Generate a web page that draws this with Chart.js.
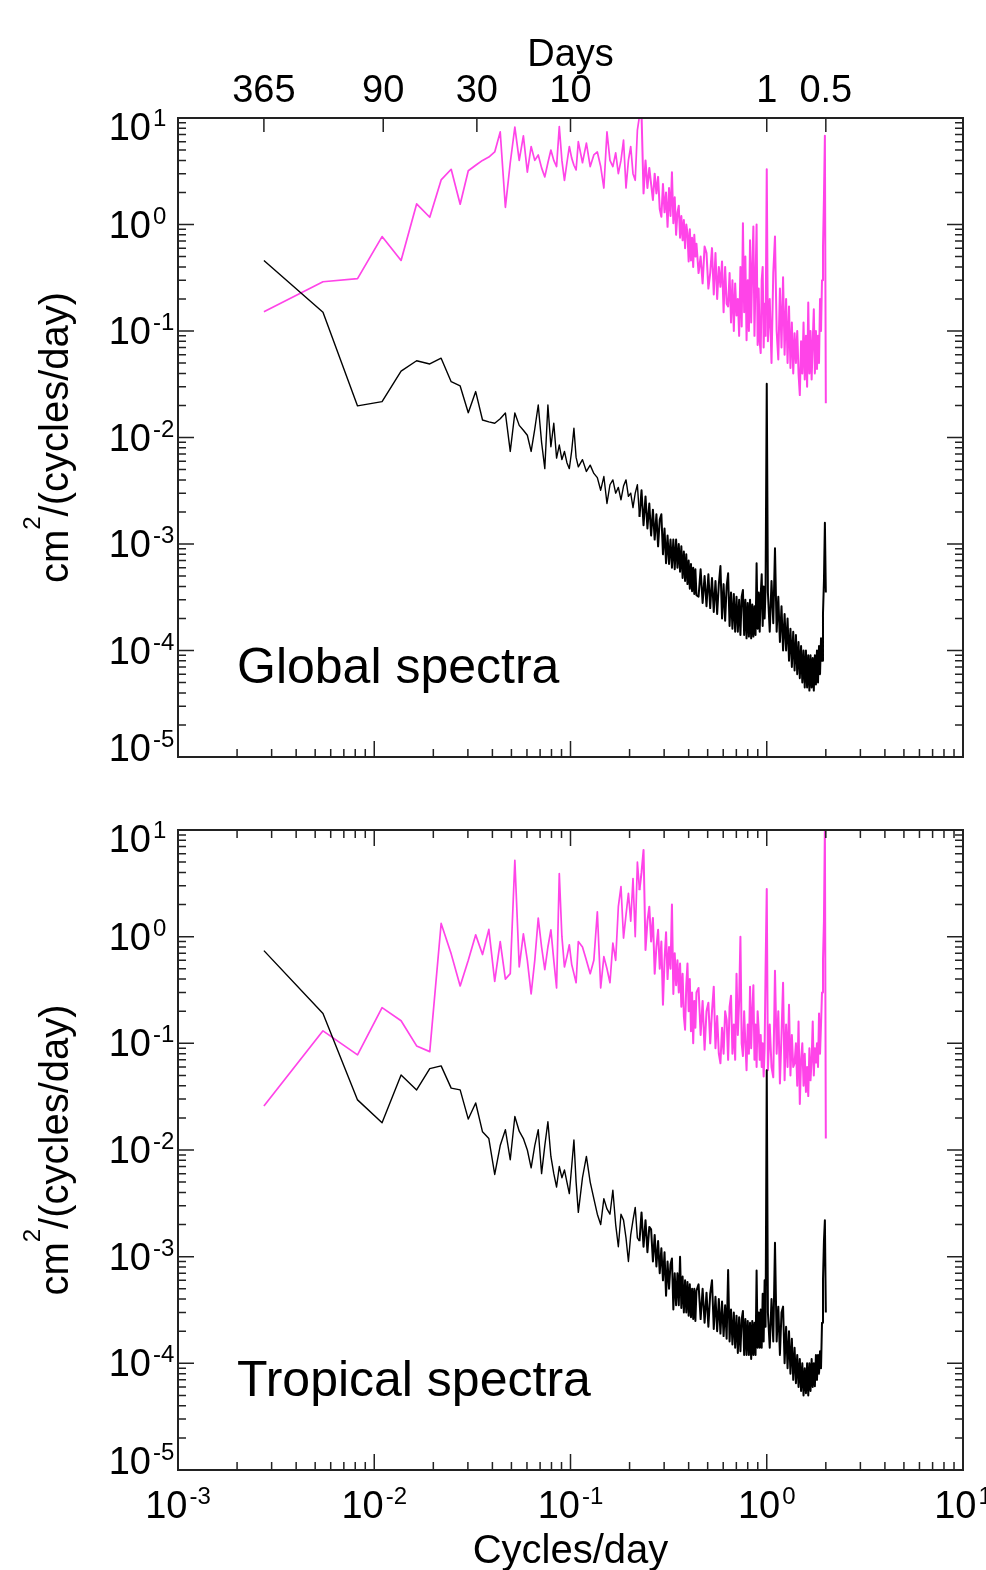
<!DOCTYPE html>
<html>
<head>
<meta charset="utf-8">
<title>Global and tropical spectra</title>
<script src="https://cdn.jsdelivr.net/npm/chart.js@4.4.1/dist/chart.umd.min.js"></script>
<style>
  html, body { margin: 0; padding: 0; background: #fff; }
  canvas { display: block; }
</style>
</head>
<body>
<canvas id="globalChart" width="986" height="790"></canvas>
<canvas id="tropicalChart" width="986" height="780"></canvas>
<script>
// frequencies (cycles/day) shared by all four spectra
const cyclesPerDay = [
  0.00274, 0.00548, 0.00822, 0.01096, 0.0137, 0.01644, 0.01918, 0.02192, 0.02466, 0.0274,
  0.03014, 0.03288, 0.03562, 0.03836, 0.0411, 0.04384, 0.04658, 0.04932, 0.05205, 0.05479,
  0.05753, 0.06027, 0.06301, 0.06575, 0.06849, 0.07123, 0.07397, 0.07671, 0.07945, 0.08219,
  0.08493, 0.08767, 0.09041, 0.09315, 0.09589, 0.09863, 0.1014, 0.1041, 0.1068, 0.1096,
  0.1151, 0.1205, 0.126, 0.1315, 0.137, 0.1425, 0.1479, 0.1534, 0.1589, 0.1644,
  0.1699, 0.1753, 0.1808, 0.1863, 0.1918, 0.1973, 0.2027, 0.2082, 0.2137, 0.2192,
  0.2247, 0.2301, 0.2356, 0.2411, 0.2466, 0.2521, 0.2575, 0.263, 0.2685, 0.274,
  0.2795, 0.2849, 0.2904, 0.2959, 0.3014, 0.3068, 0.3123, 0.3178, 0.3233, 0.3288,
  0.3342, 0.3397, 0.3452, 0.3507, 0.3562, 0.3616, 0.3671, 0.3726, 0.3781, 0.3836,
  0.389, 0.3945, 0.4, 0.4055, 0.411, 0.4164, 0.4219, 0.4274, 0.4329, 0.4384,
  0.4493, 0.4603, 0.4712, 0.4822, 0.4932, 0.5041, 0.5151, 0.526, 0.537, 0.5479,
  0.5589, 0.5699, 0.5808, 0.5918, 0.6027, 0.6137, 0.6247, 0.6356, 0.6466, 0.6575,
  0.6685, 0.6795, 0.6904, 0.7014, 0.7123, 0.7233, 0.7342, 0.7452, 0.7562, 0.7671,
  0.7781, 0.789, 0.8, 0.811, 0.8219, 0.8329, 0.8438, 0.8548, 0.8658, 0.8767,
  0.8877, 0.8986, 0.9096, 0.9205, 0.9315, 0.9425, 0.9534, 0.9644, 0.9753, 0.9863,
  1.0,
  1.0137, 1.0356, 1.0575, 1.0795, 1.1014, 1.1233, 1.1452, 1.1671, 1.189, 1.211,
  1.2329, 1.2548, 1.2767, 1.2986, 1.3205, 1.3425, 1.3644, 1.3863, 1.4082, 1.4301,
  1.4521, 1.474, 1.4959, 1.5178, 1.5397, 1.5616, 1.5836, 1.6055, 1.6274, 1.6493,
  1.6712, 1.6932, 1.7151, 1.737, 1.7589, 1.7808, 1.8027, 1.8247, 1.8466, 1.8685,
  1.8904, 1.9123, 1.9342, 1.9562, 1.9781, 2.0
];

// cm^2/(cycles/day)
const globalPink = [
  0.152, 0.29, 0.31, 0.77, 0.46, 1.56, 1.17, 2.62, 3.3, 1.55,
  3.2, 3.6, 4.0, 4.3, 4.8, 7.4, 1.45, 3.8, 8.2, 4.0,
  6.8, 3.1, 5.4, 4.0, 4.5, 3.4, 2.8, 3.8, 5.0, 4.0,
  3.5, 8.3, 4.0, 2.6, 3.8, 5.4, 4.2, 3.6, 3.25, 6.0,
  3.8, 5.8, 3.5, 4.5, 4.8, 3.5, 2.2, 7.4, 4.0, 3.5,
  4.7, 3.0, 4.0, 6.2, 2.2, 4.0, 5.4, 3.0, 2.6, 7.7,
  10.5, 11, 1.96, 4.0, 2.2, 3.4, 2.4, 1.7, 3.0, 1.96,
  2.8, 1.4, 1.18, 2.4, 1.3, 2.0, 0.95, 2.2, 1.2, 3.1,
  1.03, 1.8, 0.8, 1.3, 1.5, 0.75, 1.2, 0.71, 1.1, 0.6,
  1.0, 0.83, 0.45, 0.9, 0.46, 0.75, 0.4, 0.8, 0.5, 0.66,
  0.35, 0.5, 0.28, 0.62, 0.54, 0.25, 0.35, 0.6, 0.22, 0.54,
  0.2, 0.4, 0.26, 0.45, 0.15, 0.4, 0.18, 0.17, 0.35, 0.12,
  0.3, 0.1, 0.28, 0.14, 0.2, 0.09, 0.4, 0.11, 1.03, 0.15,
  0.5, 0.082, 0.3, 0.1, 0.71, 0.12, 0.4, 0.96, 0.09, 0.3,
  1.0, 0.074, 0.25, 0.08, 0.062, 0.3, 0.4, 0.07, 0.18, 0.09,
  3.3,
  0.08, 0.2, 0.05, 0.35, 0.77, 0.1, 0.054, 0.25, 0.07, 0.32,
  0.06, 0.2, 0.05, 0.17, 0.045, 0.12, 0.04, 0.095, 0.05, 0.1,
  0.04, 0.025, 0.08, 0.04, 0.12, 0.035, 0.09, 0.03, 0.185, 0.04,
  0.1, 0.035, 0.08, 0.16, 0.04, 0.1, 0.044, 0.09, 0.05, 0.2,
  0.1, 0.3, 0.6, 1.78, 6.8, 0.021
];

const globalBlack = [
  0.46, 0.15, 0.0198, 0.0217, 0.042, 0.0526, 0.049, 0.0555, 0.0334, 0.0305,
  0.0171, 0.027, 0.0146, 0.014, 0.0136, 0.015, 0.017, 0.0074, 0.017, 0.013,
  0.0117, 0.0105, 0.0074, 0.012, 0.0202, 0.009, 0.0051, 0.0202, 0.0082, 0.0136,
  0.0064, 0.0085, 0.0062, 0.0074, 0.0058, 0.0051, 0.0075, 0.0122, 0.0065, 0.0053,
  0.0062, 0.0048, 0.0055, 0.0046, 0.0042, 0.0032, 0.0043, 0.0024, 0.0036, 0.004,
  0.003, 0.0034, 0.0026, 0.0035, 0.004, 0.0028, 0.003, 0.0022, 0.003, 0.0036,
  0.0018, 0.0032, 0.0015, 0.0028, 0.0014, 0.0024, 0.0012, 0.0021, 0.0011, 0.0019,
  0.00095, 0.0017, 0.0019, 0.0008, 0.0014, 0.00066, 0.0012, 0.00065, 0.0011, 0.0006,
  0.0011, 0.00058, 0.0011, 0.0006, 0.001, 0.00055, 0.00095, 0.00048, 0.00085, 0.00045,
  0.0008, 0.00042, 0.0007, 0.00038, 0.00065, 0.00036, 0.0006, 0.00034, 0.00058, 0.00033,
  0.00032, 0.00058, 0.00028, 0.0005, 0.00026, 0.00052, 0.00025, 0.00048, 0.00023, 0.00045,
  0.00022, 0.00042, 0.00062, 0.0002, 0.00042, 0.00019, 0.0004, 0.00053, 0.00017, 0.00035,
  0.00016, 0.00034, 0.00015, 0.00032, 0.00015, 0.0003, 0.00014, 0.00032, 0.00037, 0.00014,
  0.0003, 0.00013, 0.00028, 0.000135, 0.0003, 0.00013, 0.00027, 0.000135, 0.00026, 0.00014,
  0.00066, 0.00016, 0.00035, 0.00015, 0.00033, 0.00052, 0.00017, 0.0004, 0.0002, 0.00038,
  0.032,
  0.00035, 0.00015, 0.00045, 0.00018, 0.00091, 0.00015, 0.00032, 0.00012, 0.00026, 0.0001,
  0.00022, 0.0001, 0.0002, 0.00008, 0.00016, 0.00007, 0.00015, 0.000065, 0.00014, 0.00006,
  0.00012, 0.000055, 0.00011, 0.00005, 0.0001, 0.000045, 0.0001, 0.000045, 0.00009, 0.000042,
  0.00009, 0.000045, 0.000085, 0.000042, 0.00009, 0.000048, 0.0001, 0.00005, 0.00011, 0.00006,
  0.00013, 0.00008, 0.00022, 0.00045, 0.00158, 0.00035
];

const tropicalPink = [
  0.0259, 0.131, 0.078, 0.216, 0.163, 0.0946, 0.0836, 1.33, 0.69, 0.345,
  0.6, 1.04, 0.68, 1.17, 0.38, 0.9, 0.4, 0.45, 5.2, 0.52,
  1.06, 0.6, 0.29, 0.6, 1.49, 0.8, 0.49, 0.8, 1.16, 0.6,
  0.33, 3.9, 1.0, 0.52, 0.65, 0.84, 0.55, 0.45, 0.37, 0.9,
  0.8, 0.6, 0.45, 0.6, 1.71, 0.33, 0.65, 0.5, 0.37, 0.87,
  0.6, 1.91, 2.95, 0.97, 1.6, 2.55, 1.4, 3.5, 1.0, 5.0,
  2.73, 4.0, 6.5, 0.75, 1.4, 1.91, 0.9, 1.5, 0.45, 0.8,
  1.16, 0.5, 0.9, 0.23, 0.6, 1.1, 0.4, 0.8, 0.5, 2.0,
  0.29, 0.7, 0.35, 0.6, 0.3, 0.56, 0.22, 0.45, 0.18, 0.134,
  0.35, 0.56, 0.2, 0.4, 0.13, 0.3, 0.1, 0.25, 0.14, 0.3,
  0.33, 0.12, 0.25, 0.087, 0.2, 0.24, 0.1, 0.2, 0.34, 0.09,
  0.18, 0.08, 0.065, 0.14, 0.08, 0.2, 0.165, 0.07, 0.22, 0.28,
  0.08, 0.15, 0.07, 0.45, 0.12, 0.25, 1.0, 0.1, 0.076, 0.2,
  0.1, 0.056, 0.15, 0.08, 0.34, 0.09, 0.2, 0.35, 0.07, 0.15,
  0.06, 0.2, 0.134, 0.07, 0.12, 0.06, 0.1, 0.049, 0.09, 0.49,
  2.8,
  0.056, 0.15, 0.06, 0.048, 0.48, 0.08, 0.2, 0.042, 0.12, 0.37,
  0.045, 0.15, 0.06, 0.23, 0.05, 0.12, 0.06, 0.065, 0.1, 0.04,
  0.16, 0.027, 0.07, 0.1, 0.04, 0.08, 0.035, 0.06, 0.032, 0.09,
  0.045, 0.07, 0.16, 0.05, 0.09, 0.066, 0.1, 0.06, 0.19, 0.08,
  0.15, 0.3, 0.6, 1.4, 10.5, 0.0128
];

const tropicalBlack = [
  0.74, 0.19, 0.0295, 0.018, 0.0506, 0.0366, 0.058, 0.0615, 0.038, 0.0366,
  0.0195, 0.0276, 0.0148, 0.0128, 0.0059, 0.011, 0.0155, 0.0081, 0.0206, 0.015,
  0.0128, 0.01, 0.0068, 0.011, 0.0155, 0.006, 0.011, 0.0184, 0.0087, 0.006,
  0.0045, 0.007, 0.0055, 0.0065, 0.005, 0.0039, 0.007, 0.0124, 0.005, 0.0026,
  0.0055, 0.0087, 0.005, 0.0035, 0.0025, 0.002, 0.0035, 0.0028, 0.0025, 0.0042,
  0.002, 0.00124, 0.0025, 0.0022, 0.0015, 0.0009, 0.0016, 0.0022, 0.0029, 0.0015,
  0.0014, 0.0026, 0.00124, 0.0022, 0.0011, 0.0019, 0.0018, 0.0009, 0.0016, 0.00081,
  0.0014, 0.0007, 0.0012, 0.0006, 0.0011, 0.00043, 0.0009, 0.0005, 0.00085, 0.00096,
  0.00032, 0.0007, 0.00035, 0.0007, 0.00035, 0.001, 0.00033, 0.00065, 0.0003, 0.0006,
  0.0003, 0.00058, 0.00028, 0.00055, 0.00027, 0.0005, 0.00026, 0.0005, 0.00025, 0.00048,
  0.00055, 0.00026, 0.0005, 0.00024, 0.00046, 0.00022, 0.00045, 0.0006, 0.00021, 0.00042,
  0.0002, 0.0004, 0.00019, 0.00038, 0.00018, 0.00035, 0.00017, 0.00075, 0.00016, 0.00032,
  0.00015, 0.0003, 0.00014, 0.00028, 0.000125, 0.00027, 0.00013, 0.00026, 0.00031, 0.00012,
  0.00026, 0.00012, 0.00025, 0.00012, 0.00024, 0.00011, 0.00025, 0.00012, 0.00024, 0.00012,
  0.00074, 0.00014, 0.0003, 0.00014, 0.00032, 0.00014, 0.00045, 0.00016, 0.0006, 0.00022,
  0.056,
  0.0003, 0.00014, 0.0004, 0.00016, 0.00135, 0.00016, 0.00034, 0.00012, 0.0003, 0.00034,
  0.0001, 0.00022, 0.00009, 0.0002, 0.00008, 0.00017, 0.00007, 0.00014, 0.000065, 0.00012,
  0.00006, 0.00011, 0.000055, 0.0001, 0.00005, 0.00009, 0.0000525, 0.0001, 0.00005, 0.0001,
  0.000055, 0.00011, 0.00006, 0.0001, 0.000061, 0.00012, 0.00007, 0.00012, 0.00008, 0.00013,
  0.00009, 0.00024, 0.0006, 0.0014, 0.0022, 0.0003
];

// axis labelling
const dayTicks = [365, 90, 30, 10, 1, 0.5];
const dayTickLabels = ['365', '90', '30', '10', '1', '0.5'];
const powerExps = [1, 0, -1, -2, -3, -4, -5];
const freqExps = [-3, -2, -1, 0, 1];

const FONT = '"Liberation Sans", Arial, Helvetica, sans-serif';
const PINK = '#ff44e8';

function drawPow(ctx, exp, x, baseline, align) {
  ctx.font = `38px ${FONT}`;
  const baseW = ctx.measureText('10').width;
  ctx.font = `24px ${FONT}`;
  const expW = ctx.measureText(String(exp)).width;
  const left = align === 'right' ? x - baseW : x - (baseW + 2 + expW) / 2;
  ctx.textAlign = 'left';
  ctx.font = `38px ${FONT}`;
  ctx.fillText('10', left, baseline);
  ctx.font = `24px ${FONT}`;
  ctx.fillText(String(exp), left + baseW + 2, baseline - 14);
}

function drawUnits(ctx, baseX, centerY) {
  const parts = [['cm', 40, 0], ['2', 24, -28], ['/(cycles/day)', 40, 0]];
  let total = 0;
  parts.forEach(p => { ctx.font = `${p[1]}px ${FONT}`; p.push(ctx.measureText(p[0]).width); total += p[3]; });
  ctx.save();
  ctx.translate(baseX, centerY);
  ctx.rotate(-Math.PI / 2);
  ctx.textAlign = 'left';
  let u = -total / 2;
  parts.forEach(p => {
    ctx.font = `${p[1]}px ${FONT}`;
    ctx.fillText(p[0], u, p[2]);
    u += p[3];
  });
  ctx.restore();
}

const spectraFrame = {
  id: 'spectraFrame',
  afterDraw(chart, args, opts) {
    const { ctx, chartArea: a, scales: { x, y } } = chart;
    ctx.save();
    ctx.strokeStyle = '#222';
    ctx.fillStyle = '#000';
    ctx.lineWidth = 1.5;
    ctx.textBaseline = 'alphabetic';

    ctx.beginPath();
    // log ticks on left and right
    for (let e = -5; e <= 1; e++) {
      for (let m = 1; m <= 9; m++) {
        const v = m * 10 ** e;
        if (v > 10.0001) break;
        const py = y.getPixelForValue(v);
        const len = m === 1 ? 16 : 8;
        ctx.moveTo(a.left, py); ctx.lineTo(a.left + len, py);
        ctx.moveTo(a.right, py); ctx.lineTo(a.right - len, py);
      }
    }
    // log ticks on the bottom, and on the top unless it carries the period axis
    for (let e = -3; e <= 1; e++) {
      for (let m = 1; m <= 9; m++) {
        const v = m * 10 ** e;
        if (v > 10.0001) break;
        const px = x.getPixelForValue(v);
        const len = m === 1 ? 16 : 8;
        ctx.moveTo(px, a.bottom); ctx.lineTo(px, a.bottom - len);
        if (!opts.dayAxis) { ctx.moveTo(px, a.top); ctx.lineTo(px, a.top + len); }
      }
    }
    if (opts.dayAxis) {
      dayTicks.forEach(d => {
        const px = x.getPixelForValue(1 / d);
        ctx.moveTo(px, a.top); ctx.lineTo(px, a.top + 14);
      });
    }
    ctx.stroke();

    ctx.lineWidth = 2;
    ctx.strokeRect(a.left, a.top, a.right - a.left, a.bottom - a.top);

    // y tick labels
    powerExps.forEach((e, i) => {
      const py = y.getPixelForValue(10 ** e);
      const shift = i === 0 ? 9 : (i === powerExps.length - 1 ? -9 : 0);
      drawPow(ctx, e, a.left - 27, py + 13 + shift, 'right');
    });

    drawUnits(ctx, 68, (a.top + a.bottom) / 2);

    if (opts.dayAxis) {
      ctx.font = `38px ${FONT}`;
      ctx.textAlign = 'center';
      dayTicks.forEach((d, i) => ctx.fillText(dayTickLabels[i], x.getPixelForValue(1 / d), a.top - 16));
      ctx.fillText('Days', (a.left + a.right) / 2, a.top - 52);
    }
    if (opts.freqLabels) {
      freqExps.forEach(e => drawPow(ctx, e, x.getPixelForValue(10 ** e), a.bottom + 48, 'center'));
      ctx.font = `40px ${FONT}`;
      ctx.textAlign = 'center';
      ctx.fillText('Cycles/day', (a.left + a.right) / 2, a.bottom + 93);
    }

    ctx.font = `50px ${FONT}`;
    ctx.textAlign = 'left';
    ctx.fillText(opts.label, a.left + 59, a.bottom - 74);
    ctx.restore();
  }
};

// the densely sampled high-frequency part is stroked a little heavier
const denseWidth = c => (c.p0.parsed.x > 0.22 ? 2 : undefined);

function spectrumChart(id, pink, black, padding, frameOpts) {
  return new Chart(document.getElementById(id), {
    type: 'line',
    data: {
      datasets: [
        { data: cyclesPerDay.map((f, i) => ({ x: f, y: black[i] })), borderColor: '#000', borderWidth: 1.4,
          segment: { borderWidth: denseWidth } },
        { data: cyclesPerDay.map((f, i) => ({ x: f, y: pink[i] })), borderColor: PINK, borderWidth: 1.7,
          segment: { borderWidth: denseWidth } }
      ]
    },
    options: {
      responsive: false,
      animation: false,
      layout: { padding },
      elements: {
        point: { radius: 0 },
        line: { tension: 0, borderJoinStyle: 'round' }
      },
      scales: {
        x: { type: 'logarithmic', min: 1e-3, max: 10, display: false },
        y: { type: 'logarithmic', min: 1e-5, max: 10, display: false }
      },
      plugins: {
        legend: { display: false },
        tooltip: { enabled: false },
        spectraFrame: frameOpts
      }
    },
    plugins: [spectraFrame]
  });
}

spectrumChart('globalChart', globalPink, globalBlack,
  { left: 178, right: 23, top: 118, bottom: 33 },
  { label: 'Global spectra', dayAxis: true, freqLabels: false });

spectrumChart('tropicalChart', tropicalPink, tropicalBlack,
  { left: 178, right: 23, top: 40, bottom: 100 },
  { label: 'Tropical spectra', dayAxis: false, freqLabels: true });
</script>
</body>
</html>
